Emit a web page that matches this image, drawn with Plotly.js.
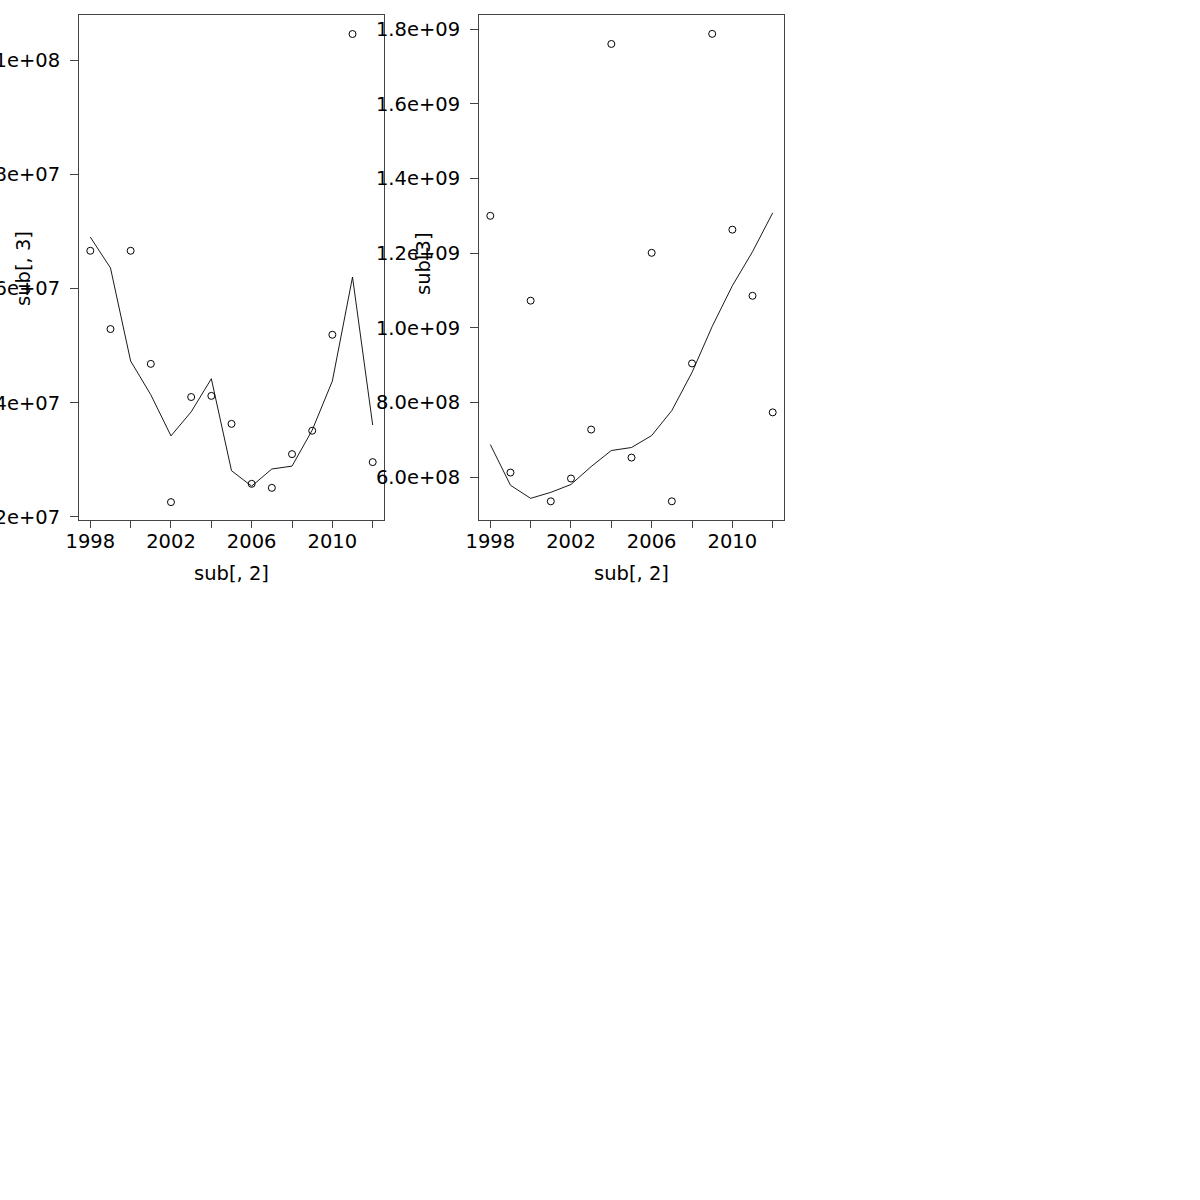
<!DOCTYPE html>
<html>
<head>
<meta charset="utf-8">
<script src="https://cdn.plot.ly/plotly-3.0.1.min.js"></script>
<style>html,body{margin:0;padding:0;background:#fff;}#chart{width:1200px;height:1200px;}</style>
</head>
<body>
<div id="chart"></div>
<script>
// Years (sub[, 2])
const years = [1998,1999,2000,2001,2002,2003,2004,2005,2006,2007,2008,2009,2010,2011,2012];

// Left panel: observed values (sub[, 3]) and fitted line
const leftPoints = [6.66e7,5.29e7,6.66e7,4.68e7,2.26e7,4.10e7,4.12e7,3.63e7,2.58e7,2.51e7,3.10e7,3.51e7,5.19e7,1.0455e8,2.96e7];
const leftFit    = [6.90e7,6.36e7,4.73e7,4.14e7,3.42e7,3.84e7,4.42e7,2.81e7,2.54e7,2.84e7,2.89e7,3.52e7,4.38e7,6.20e7,3.61e7];

// Right panel: observed values (sub[3]) and fitted line
const rightPoints = [1.300e9,6.13e8,1.073e9,5.36e8,5.97e8,7.28e8,1.760e9,6.53e8,1.201e9,5.36e8,9.05e8,1.787e9,1.263e9,1.086e9,7.74e8];
const rightFit    = [6.88e8,5.79e8,5.44e8,5.60e8,5.81e8,6.29e8,6.72e8,6.80e8,7.12e8,7.79e8,8.81e8,1.004e9,1.113e9,1.204e9,1.308e9];

// Tick labels
const xTickVals = [1998,2000,2002,2004,2006,2008,2010,2012];
const xTickText = ['1998','','2002','','2006','','2010',''];
const leftYTickVals = [2e7,4e7,6e7,8e7,1e8];
const leftYTickText = ['2e+07','4e+07','6e+07','8e+07','1e+08'];
const rightYTickVals = [6e8,8e8,1e9,1.2e9,1.4e9,1.6e9,1.8e9];
const rightYTickText = ['6.0e+08','8.0e+08','1.0e+09','1.2e+09','1.4e+09','1.6e+09','1.8e+09'];

const xTitle = 'sub[, 2]';
const leftYTitle = 'sub[, 3]';
const rightYTitle = 'sub[3]';

const W = 1200, H = 1200;
const px = v => v / W;
const py = v => 1 - v / H;

const font = {family: 'DejaVu Sans, sans-serif', size: 19.5, color: '#000'};
const lineCol = '#444';

const pointStyle = {symbol: 'circle-open', size: 7, color: '#000', line: {width: 1, color: '#000'}};
const lineStyle = {color: '#000', width: 0.9};

const traces = [
  {x: years, y: leftPoints, type: 'scatter', mode: 'markers', marker: pointStyle, xaxis: 'x', yaxis: 'y'},
  {x: years, y: leftFit, type: 'scatter', mode: 'lines', line: lineStyle, xaxis: 'x', yaxis: 'y'},
  {x: years, y: rightPoints, type: 'scatter', mode: 'markers', marker: pointStyle, xaxis: 'x2', yaxis: 'y2'},
  {x: years, y: rightFit, type: 'scatter', mode: 'lines', line: lineStyle, xaxis: 'x2', yaxis: 'y2'}
];

function xAxis(domain, anchor) {
  return {
    domain: domain, anchor: anchor,
    range: [1997.44, 2012.56],
    tickmode: 'array', tickvals: xTickVals, ticktext: xTickText,
    ticks: 'outside', ticklen: 7, tickwidth: 1, tickcolor: lineCol,
    showline: true, linecolor: lineCol, linewidth: 1, mirror: true,
    showgrid: false, zeroline: false, tickfont: font, ticklabelstandoff: -3
  };
}
function yAxis(domain, anchor, range, vals, text) {
  return {
    domain: domain, anchor: anchor,
    range: range,
    tickmode: 'array', tickvals: vals, ticktext: text,
    ticks: 'outside', ticklen: 8, tickwidth: 1, tickcolor: lineCol,
    showline: true, linecolor: lineCol, linewidth: 1, mirror: true,
    showgrid: false, zeroline: false, tickfont: font, ticklabelstandoff: 6
  };
}

const layout = {
  width: W, height: H,
  margin: {l: 0, r: 0, t: 0, b: 0},
  paper_bgcolor: '#fff', plot_bgcolor: '#fff',
  showlegend: false,
  font: font,
  xaxis: xAxis([px(79), px(384)], 'y'),
  yaxis: yAxis([py(520), py(15)], 'x', [1.947e7, 1.0788e8], leftYTickVals, leftYTickText),
  xaxis2: xAxis([px(479), px(784)], 'y2'),
  yaxis2: yAxis([py(520), py(15)], 'x2', [4.86e8, 1.8375e9], rightYTickVals, rightYTickText),
  annotations: [
    {text: xTitle, x: px(231.5), y: py(574), xref: 'paper', yref: 'paper', showarrow: false, font: font, xanchor: 'center', yanchor: 'middle'},
    {text: xTitle, x: px(631.5), y: py(574), xref: 'paper', yref: 'paper', showarrow: false, font: font, xanchor: 'center', yanchor: 'middle'},
    {text: leftYTitle, x: px(24), y: py(269), xref: 'paper', yref: 'paper', showarrow: false, font: font, textangle: -90, xanchor: 'center', yanchor: 'middle'},
    {text: rightYTitle, x: px(424), y: py(264), xref: 'paper', yref: 'paper', showarrow: false, font: font, textangle: -90, xanchor: 'center', yanchor: 'middle'}
  ]
};

Plotly.newPlot('chart', traces, layout, {staticPlot: true, displayModeBar: false});
</script>
</body>
</html>
